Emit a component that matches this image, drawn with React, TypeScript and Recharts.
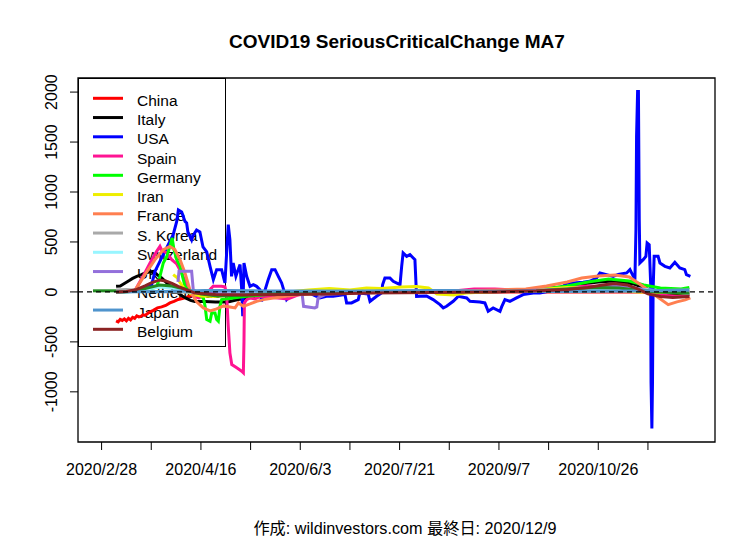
import React from 'react';
import {
  LineChart,
  Line,
  XAxis,
  YAxis,
  ReferenceLine,
  ReferenceArea,
} from 'recharts';

const FONT = '"Liberation Sans", Arial, sans-serif';
const WIDTH = 756;
const HEIGHT = 540;

// x = days since 2020/2/28
const X_MIN = -11.4;
const X_MAX = 296.4;
const Y_MIN = -1502;
const Y_MAX = 2141;

const X_TICKS = [0, 24, 48, 72, 96, 120, 144, 168, 192, 216, 240, 264];
const X_TICK_LABELS = [
  '2020/2/28', '', '2020/4/16', '', '2020/6/3', '', '2020/7/21', '', '2020/9/7', '', '2020/10/26', '',
];
const Y_TICKS = [-1000, -500, 0, 500, 1000, 1500, 2000];

const CHINA_DAYS = [7, 8, 9, 10, 11, 12, 13, 14, 15, 16, 17, 18, 19, 20, 21, 23, 25, 27, 29, 31, 33, 35, 37, 39, 41, 43, 45, 48, 52, 60, 80, 120, 160, 200, 240, 284];
const CHINA_VALUES = [-290, -300, -275, -285, -270, -290, -265, -280, -255, -265, -240, -250, -245, -230, -235, -205, -185, -160, -150, -135, -110, -95, -75, -65, -55, -40, -25, -15, -8, -3, 0, 0, 0, 0, 0, 0];

const ITALY_DAYS = [7, 9, 11, 13, 15, 17, 19, 21, 23, 25, 27, 29, 31, 33, 35, 37, 39, 41, 43, 45, 50, 55, 60, 62, 66, 72, 80, 90, 100, 115, 140, 170, 195, 210, 222, 232, 240, 247, 252, 257, 262, 267, 273, 279, 284];
const ITALY_VALUES = [56, 60, 85, 110, 135, 156, 170, 190, 200, 206, 170, 140, 100, 60, 20, -10, -40, -65, -85, -95, -97, -100, -100, -95, -75, -55, -40, -25, -12, -5, 0, 0, 5, 20, 50, 80, 100, 110, 100, 80, 40, 10, -20, -30, -25];

const USA_DAYS = [
  7, 14, 20, 24.2, 25.8, 27.4, 29.8, 32.2, 34.6, 36.3, 37.1, 38.7, 40.3, 41.1, 41.7, 43.5, 44.1, 45.9, 47.5, 49,
  50.8, 52.4, 54, 55.6, 58, 59.6, 61.2, 62, 62.8, 63.6, 64.9, 66, 66.9, 67.7, 68.2, 68.8, 70.1, 71.7, 73.3, 74.9,
  76.5, 77.3, 79, 80.5, 82.2, 83.8, 85.4, 87, 89.4, 91, 94.3, 97.4, 100.7, 105.5, 108.7, 111.9, 117.6, 118.4, 120.8, 124,
  124.8, 128.8, 129.7, 132.9, 135.3, 135.8, 136.9, 139.3, 140.9, 144.2, 145, 145.7, 147.4, 149, 150.6, 151.4, 152.2, 157, 160.2, 163.5,
  165.1, 166.7, 169.9, 172.3, 176.4, 178, 182.8, 185.2, 186.8, 189.2, 192.5, 193.3, 194.9, 197.3, 200.5, 203.7, 208.6, 211.8, 216.6, 223,
  224.7, 227.9, 232.7, 235.9, 239.2, 240.8, 244, 247.2, 249.6, 253.7, 255.3, 256.1, 257.7, 258.2, 258.5, 259, 259.4, 259.8, 260.1, 261.7,
  263, 263.6, 264.6, 265.3, 265.5, 265.9, 266.2, 266.5, 267, 268.9, 269.8, 272.2, 274.6, 277, 279.4, 281.8, 282.6, 284.5,
];
const USA_VALUES = [
  5, 10, 30, 73, 206, 273, 373, 473, 573, 706, 820, 800, 706, 690, 600, 520, 560, 620, 600, 450,
  400, 256, 123, 223, 223, 90, 673, 523, 156, 290, 156, 223, 273, 23, -244, 290, 156, 56, 73, 56,
  23, -94, 20, 123, 223, 223, 156, 90, -77, -40, -27, -10, -15, -60, -44, -44, -27, -110, -110, -77,
  -10, -20, -94, -44, -10, 73, 140, 140, 106, 73, 256, 390, 356, 373, 340, 323, -44, -40, -77, -127,
  -160, -144, -94, -44, -60, -94, -100, -110, -194, -160, -194, -150, -77, -94, -60, -27, -10, -10, 10, 56,
  90, 90, 96, 106, 140, 190, 173, 156, 175, 190, 223, 190, 123, 623, 1556, 2006, 2006, 723, 290, 323,
  356, 490, 473, 90, -910, -1367, -910, 23, 356, 356, 290, 256, 240, 296, 240, 223, 173, 156,
];

const SPAIN_DAYS = [7, 16, 20, 23.4, 26.6, 28.2, 29, 31.5, 33.9, 36.3, 38.7, 41.9, 44.3, 47, 50, 53.9, 57.9, 59.6, 60.4, 61.2, 62, 62.9, 65.3, 67.7, 68.5, 68.8, 69, 70.1, 71.7, 74.1, 76.5, 90, 95, 100, 120, 170, 180, 190, 200, 220, 235, 245, 255, 262, 270, 278, 284];
const SPAIN_VALUES = [0, 10, 156, 290, 406, 456, 420, 390, 323, 280, 190, 23, -44, -60, -30, 56, 56, 50, -20, -344, -610, -727, -760, -794, -810, -500, -110, -77, -60, -70, -44, -70, -30, -10, 0, 10, 30, 30, 20, 40, 60, 50, 30, 0, -30, -45, -40];

const GERMANY_DAYS = [7, 20, 26.6, 28.2, 29.8, 31.5, 33, 34.1, 35, 36.3, 37.9, 40.3, 42.7, 45.9, 47.5, 49.2, 50, 50.8, 52.4, 53.2, 54.8, 55.6, 56.4, 57.2, 58, 63.6, 70, 80, 90, 100, 150, 190, 210, 225, 235, 245, 255, 262, 270, 280, 284];
const GERMANY_VALUES = [0, 10, 50, 156, 290, 356, 456, 540, 420, 323, 256, 56, 0, -30, -40, -60, -144, -277, -294, -210, -210, -277, -294, -144, -77, -60, -44, -27, -15, -5, 0, 5, 20, 60, 100, 130, 110, 70, 40, 30, 45];

const IRAN_DAYS = [34.6, 36.7, 37.5, 40, 43, 48, 55, 62, 70, 80, 90, 100, 110, 120, 128, 135, 145, 152, 158, 162, 170, 176, 185, 200, 215, 225, 240, 260, 284];
const IRAN_VALUES = [173, 140, 106, 30, -20, -40, -45, -30, -20, -10, 0, 20, 35, 20, 40, 35, 50, 55, 40, -20, -30, -10, 0, 10, 30, 45, 30, 0, -10];

const FRANCE_DAYS = [7, 16, 21.5, 25.8, 29.8, 33, 35.4, 37.9, 40.3, 42.7, 45.9, 49.2, 52.4, 55.6, 58.9, 62, 64.5, 66.1, 68.5, 71.7, 74.9, 78.2, 83, 89.4, 95.6, 110, 130, 150, 170, 190, 205, 215, 225, 232, 240, 248, 255, 260, 264, 268, 273.8, 278, 282, 284.5];
const FRANCE_VALUES = [0, 10, 190, 323, 423, 456, 423, 323, 190, 20, -100, -160, -190, -170, -140, -150, -160, -110, -144, -120, -94, -77, -60, -44, -27, -10, 0, 10, 10, 20, 30, 60, 100, 140, 160, 170, 150, 80, 20, -40, -127, -100, -80, -60];

const KOREA_DAYS = [7, 12, 18, 25, 35, 50, 80, 120, 160, 200, 230, 250, 270, 284];
const KOREA_VALUES = [20, 25, 15, 5, 0, -5, 0, 0, 5, 5, 5, 10, 15, 20];

const SWISS_DAYS = [7, 15, 22, 28, 34, 40, 48, 60, 90, 150, 210, 230, 245, 255, 265, 275, 284];
const SWISS_VALUES = [0, 5, 30, 50, 40, 10, -15, -15, -5, 0, 5, 20, 40, 40, 20, 0, -10];

const UK_DAYS = [36.9, 37.4, 43.5, 44.3, 47, 60, 80, 96.9, 97.6, 103, 104, 104.6, 108, 120, 150, 200, 225, 245, 255, 265, 284];
const UK_VALUES = [100, 206, 206, 20, -10, -20, -20, -20, -144, -160, -150, -60, -27, -10, 0, 10, 30, 60, 50, 10, -10];

const NETHERLANDS_DAYS = [7, 15, 22, 28, 34, 40, 48, 56, 70, 90, 150, 210, 225, 240, 250, 258, 268, 284];
const NETHERLANDS_VALUES = [0, 5, 40, 70, 60, 30, -20, -40, -30, -10, 0, 10, 30, 45, 40, 20, 0, -10];

const JAPAN_DAYS = [7, 30, 40, 50, 60, 80, 120, 160, 170, 190, 220, 240, 260, 270, 284];
const JAPAN_VALUES = [0, 5, 10, 15, 15, 10, 10, 15, 15, 5, 5, 10, 10, 15, 20];

const BELGIUM_DAYS = [7, 12, 17, 21, 24, 28, 31, 34, 37, 41, 45, 55, 70, 90, 110, 130, 160, 190, 210, 225, 235, 242, 248, 254, 259, 264, 270, 276, 284];
const BELGIUM_VALUES = [0, 5, 25, 60, 90, 120, 110, 85, 55, 20, -10, -25, -30, -25, -20, -10, -5, 0, 10, 25, 45, 70, 85, 70, 30, -20, -45, -55, -45];

const toPoints = (days: number[], values: number[]) =>
  days.map((d, i) => ({ d, v: values[i] }));

const SERIES = [
  { name: 'China', color: '#FF0000', data: toPoints(CHINA_DAYS, CHINA_VALUES) },
  { name: 'Italy', color: '#000000', data: toPoints(ITALY_DAYS, ITALY_VALUES) },
  { name: 'USA', color: '#0000FF', data: toPoints(USA_DAYS, USA_VALUES) },
  { name: 'Spain', color: '#FF1493', data: toPoints(SPAIN_DAYS, SPAIN_VALUES) },
  { name: 'Germany', color: '#00FF00', data: toPoints(GERMANY_DAYS, GERMANY_VALUES) },
  { name: 'Iran', color: '#EEEE00', data: toPoints(IRAN_DAYS, IRAN_VALUES) },
  { name: 'France', color: '#FF7F50', data: toPoints(FRANCE_DAYS, FRANCE_VALUES) },
  { name: 'S. Korea', color: '#A9A9A9', data: toPoints(KOREA_DAYS, KOREA_VALUES) },
  { name: 'Switzerland', color: '#98F5FF', data: toPoints(SWISS_DAYS, SWISS_VALUES) },
  { name: 'UK', color: '#9370DB', data: toPoints(UK_DAYS, UK_VALUES) },
  { name: 'Netherlands', color: '#228B22', data: toPoints(NETHERLANDS_DAYS, NETHERLANDS_VALUES) },
  { name: 'Japan', color: '#4F94CD', data: toPoints(JAPAN_DAYS, JAPAN_VALUES) },
  { name: 'Belgium', color: '#8B2323', data: toPoints(BELGIUM_DAYS, BELGIUM_VALUES) },
];

function YTick(props: any) {
  const { x, y, payload } = props;
  return (
    <text
      x={x}
      y={y}
      transform={`rotate(-90, ${x}, ${y})`}
      textAnchor="middle"
      fontSize={16}
      fontFamily={FONT}
      fill="#000"
    >
      {payload.value}
    </text>
  );
}

function LegendBox() {
  const rowH = 19.25;
  return (
    <div
      style={{
        position: 'absolute',
        left: 78,
        top: 78,
        width: 148,
        height: 269,
        border: '1px solid #000',
        boxSizing: 'border-box',
      }}
    >
      <svg width={148} height={269} style={{ display: 'block' }}>
        {SERIES.map((s, i) => {
          const cy = 19.3 + i * rowH;
          return (
            <g key={s.name}>
              <line x1={14} x2={44} y1={cy} y2={cy} stroke={s.color} strokeWidth={3} />
              <text x={58} y={cy + 7.5} fontSize={15.5} fontFamily={FONT} fill="#000">
                {s.name}
              </text>
            </g>
          );
        })}
      </svg>
    </div>
  );
}

export default function App() {
  return (
    <div
      style={{
        position: 'absolute',
        left: 0,
        top: 0,
        width: WIDTH,
        height: HEIGHT,
        background: '#fff',
        fontFamily: FONT,
      }}
    >
      <div
        style={{
          position: 'absolute',
          left: 397,
          top: 31,
          transform: 'translateX(-50%)',
          whiteSpace: 'nowrap',
          fontSize: 19,
          fontWeight: 'bold',
          lineHeight: '22px',
        }}
      >
        COVID19 SeriousCriticalChange MA7
      </div>
      <LegendBox />
      <div style={{ position: 'absolute', left: 0, top: 0 }}>
        <LineChart
          width={WIDTH}
          height={HEIGHT}
          margin={{ top: 78, right: 41, left: 0, bottom: 0 }}
        >
          <XAxis
            dataKey="d"
            type="number"
            domain={[X_MIN, X_MAX]}
            ticks={X_TICKS}
            allowDataOverflow
            height={98}
            axisLine={false}
            tickLine={{ stroke: '#000' }}
            tickSize={8}
            tickMargin={14}
            interval={0}
            tick={{ fill: '#000', fontSize: 16, fontFamily: FONT }}
            tickFormatter={(v: number) => X_TICK_LABELS[X_TICKS.indexOf(v)] ?? ''}
          />
          <YAxis
            type="number"
            domain={[Y_MIN, Y_MAX]}
            ticks={Y_TICKS}
            allowDataOverflow
            width={78}
            axisLine={false}
            tickLine={{ stroke: '#000' }}
            tickSize={8}
            tickMargin={13}
            interval={0}
            tick={<YTick />}
          />
          <ReferenceArea
            x1={X_MIN}
            x2={X_MAX}
            y1={Y_MIN}
            y2={Y_MAX}
            fill="none"
            stroke="#000"
            strokeWidth={1.3}
          />
          {SERIES.map((s) => (
            <Line
              key={s.name}
              data={s.data}
              dataKey="v"
              name={s.name}
              type="linear"
              stroke={s.color}
              strokeWidth={3}
              dot={false}
              activeDot={false}
              isAnimationActive={false}
            />
          ))}
          <ReferenceLine y={0} stroke="#000" strokeWidth={1.2} strokeDasharray="5 4" />
        </LineChart>
      </div>
      <div
        style={{
          position: 'absolute',
          left: 405,
          top: 519,
          transform: 'translateX(-50%)',
          whiteSpace: 'nowrap',
          fontSize: 16.2,
          lineHeight: '18px',
          fontFamily: '"Liberation Sans", Arial, "Noto Sans CJK JP", sans-serif',
        }}
      >
        作成: wildinvestors.com 最終日: 2020/12/9
      </div>
    </div>
  );
}
